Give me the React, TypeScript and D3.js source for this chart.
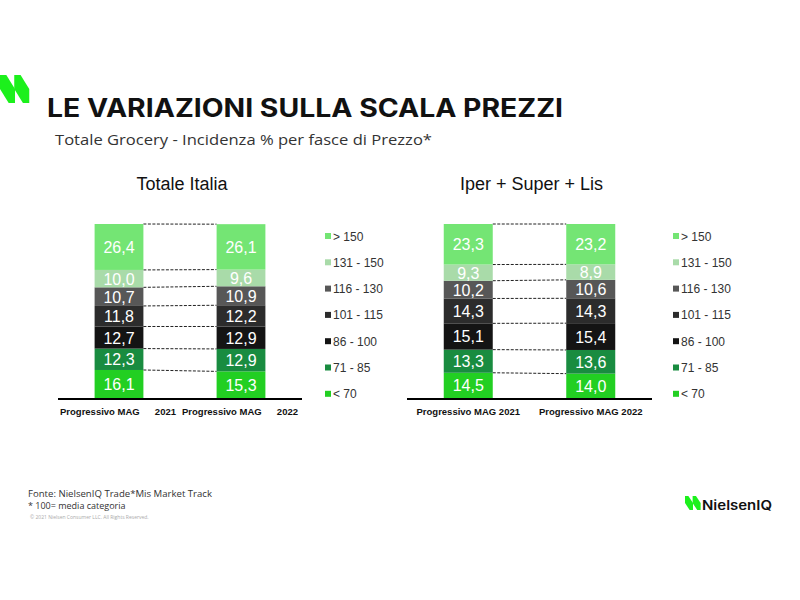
import React from "react";
import * as d3 from "d3";

const bands = ["< 70", "71 - 85", "86 - 100", "101 - 115", "116 - 130", "131 - 150", "> 150"];
const bandColors = ["#22cf22", "#198c40", "#141414", "#2c2c2c", "#575757", "#a9dba9", "#74e574"];
const legendOrder = ["> 150", "131 - 150", "116 - 130", "101 - 115", "86 - 100", "71 - 85", "< 70"];

const periods = ["Progressivo MAG 2021", "Progressivo MAG 2022"];
const italia2021 = [16.1, 12.3, 12.7, 11.8, 10.7, 10.0, 26.4];
const italia2022 = [15.3, 12.9, 12.9, 12.2, 10.9, 9.6, 26.1];
const iper2021 = [14.5, 13.3, 15.1, 14.3, 10.2, 9.3, 23.3];
const iper2022 = [14.0, 13.6, 15.4, 14.3, 10.6, 8.9, 23.2];

const fmt = (v: number) => v.toFixed(1).replace(".", ",");

type PanelProps = {
  title: string;
  values: number[][];
  x0: number;
  x1: number;
  legendX: number;
  splitLabels: boolean;
};

function Panel({ title, values, x0, x1, legendX, splitLabels }: PanelProps) {
  const yTop = 224;
  const yBottom = 398;
  const y = d3.scaleLinear().domain([0, 100]).range([yBottom, yTop]);
  const x = d3.scaleBand<string>().domain(periods).range([x0, x1]).padding(0);
  const bw = x.bandwidth() * 0.4;
  const stacks = values.map((vals) => {
    let acc = 0;
    return vals.map((v) => {
      const s = acc;
      acc += v;
      return { v, s, e: acc };
    });
  });
  const fontTxt = "'Liberation Sans', Arial, sans-serif";
  return (
    <g>
      <text x={(x0 + x1) / 2 + 2} y={190} textAnchor="middle" fontFamily={fontTxt} fontSize={18} fill="#111">
        {title}
      </text>
      {stacks[0].map((seg, i) => {
        const xa = (x(periods[0]) as number) + x.bandwidth() / 2 + bw / 2;
        const xb = (x(periods[1]) as number) + x.bandwidth() / 2 - bw / 2;
        return (
          <line key={"c" + i} x1={xa} x2={xb} y1={y(Math.min(seg.e, 100))} y2={y(Math.min(stacks[1][i].e, 100))}
            stroke="#222" strokeWidth={1} strokeDasharray="3,1.5" />
        );
      })}
      {stacks.map((st, j) => {
        const cx = (x(periods[j]) as number) + x.bandwidth() / 2;
        return (
          <g key={"b" + j}>
            {st.map((seg, i) => (
              <g key={i}>
                <rect x={cx - bw / 2} y={y(Math.min(seg.e, 100))} width={bw}
                  height={y(seg.s) - y(Math.min(seg.e, 100))} fill={bandColors[i]} />
                <text x={cx} y={(y(seg.s) + y(Math.min(seg.e, 100))) / 2 + 6} textAnchor="middle"
                  fontFamily={fontTxt} fontSize={16} fill="#fff">
                  {fmt(seg.v)}
                </text>
              </g>
            ))}
          </g>
        );
      })}
      <line x1={x0} x2={x1} y1={yBottom + 1} y2={yBottom + 1} stroke="#000" strokeWidth={2} />
      {periods.map((p, j) => {
        const bx = x(p) as number;
        if (splitLabels) {
          const parts = p.split(" ");
          const year = parts.pop();
          return (
            <g key={"l" + j}>
              <text x={bx + 2} y={415} fontFamily={fontTxt} fontWeight="bold" fontSize={9.5} fill="#111">
                {parts.join(" ")}
              </text>
              <text x={bx + x.bandwidth() - 4} y={415} textAnchor="end" fontFamily={fontTxt} fontWeight="bold" fontSize={9.5} fill="#111">
                {year}
              </text>
            </g>
          );
        }
        return (
          <text key={"l" + j} x={bx + x.bandwidth() / 2} y={415} textAnchor="middle" fontFamily={fontTxt}
            fontWeight="bold" fontSize={9.5} fill="#111">
            {p}
          </text>
        );
      })}
      {legendOrder.map((b, k) => {
        const idx = bands.indexOf(b);
        const ly = 236 + k * 26.3;
        return (
          <g key={"lg" + k}>
            <rect x={legendX} y={ly - 3} width={6} height={6} fill={bandColors[idx]} />
            <text x={legendX + 8} y={ly + 4.5} fontFamily={fontTxt} fontSize={12} fill="#333">
              {b}
            </text>
          </g>
        );
      })}
    </g>
  );
}

function Mark({ x, y, w, h, color }: { x: number; y: number; w: number; h: number; color: string }) {
  const pts = (dx: number) =>
    [
      [dx, 0],
      [dx + 0.42, 0],
      [dx + 1, 0.5],
      [dx + 1, 1],
      [dx + 0.58, 1],
      [dx, 0.5],
    ]
      .map(([px, py]) => `${x + px * w},${y + py * h}`)
      .join(" ");
  return (
    <g fill={color}>
      <polygon points={pts(0)} />
      <polygon points={pts(0.95)} />
    </g>
  );
}

export default function App() {
  return (
    <svg width={800} height={600} style={{ display: "block", position: "absolute", left: 0, top: 0 }}>
      <rect width={800} height={600} fill="#fff" />
      <Mark x={0} y={75} w={15} h={28} color="#1cf01c" />
      <text x={47} y={117} fontFamily="Inter, 'Open Sans', sans-serif" fontWeight={700} fontSize={25}
        fill="#111" textLength={516} lengthAdjust="spacingAndGlyphs">
        LE VARIAZIONI SULLA SCALA PREZZI
      </text>
      <text x={55} y={145} fontFamily="'Open Sans', sans-serif" fontSize={14} fill="#333"
        textLength={377} lengthAdjust="spacingAndGlyphs">
        Totale Grocery - Incidenza % per fasce di Prezzo*
      </text>
      <Panel title="Totale Italia" values={[italia2021, italia2022]} x0={58} x1={302} legendX={325} splitLabels={true} />
      <Panel title="Iper + Super + Lis" values={[iper2021, iper2022]} x0={407} x1={652} legendX={673} splitLabels={false} />
      <text x={28} y={497} fontFamily="'Open Sans', sans-serif" fontSize={9} fill="#333" textLength={184} lengthAdjust="spacingAndGlyphs">
        Fonte: NielsenIQ Trade*Mis  Market Track
      </text>
      <text x={28} y={509} fontFamily="'Open Sans', sans-serif" fontSize={9} fill="#333">
        * 100= media categoria
      </text>
      <text x={30} y={519} fontFamily="'Open Sans', sans-serif" fontSize={5} fill="#aaa">
        © 2021 Nielsen Consumer LLC. All Rights Reserved.
      </text>
      <Mark x={685} y={496} w={8} h={14} color="#1cf01c" />
      <text x={702} y={510} fontFamily="Inter, 'Open Sans', sans-serif" fontWeight={600} fontSize={13} fill="#111"
        textLength={70} lengthAdjust="spacingAndGlyphs">
        NielsenIQ
      </text>
    </svg>
  );
}
